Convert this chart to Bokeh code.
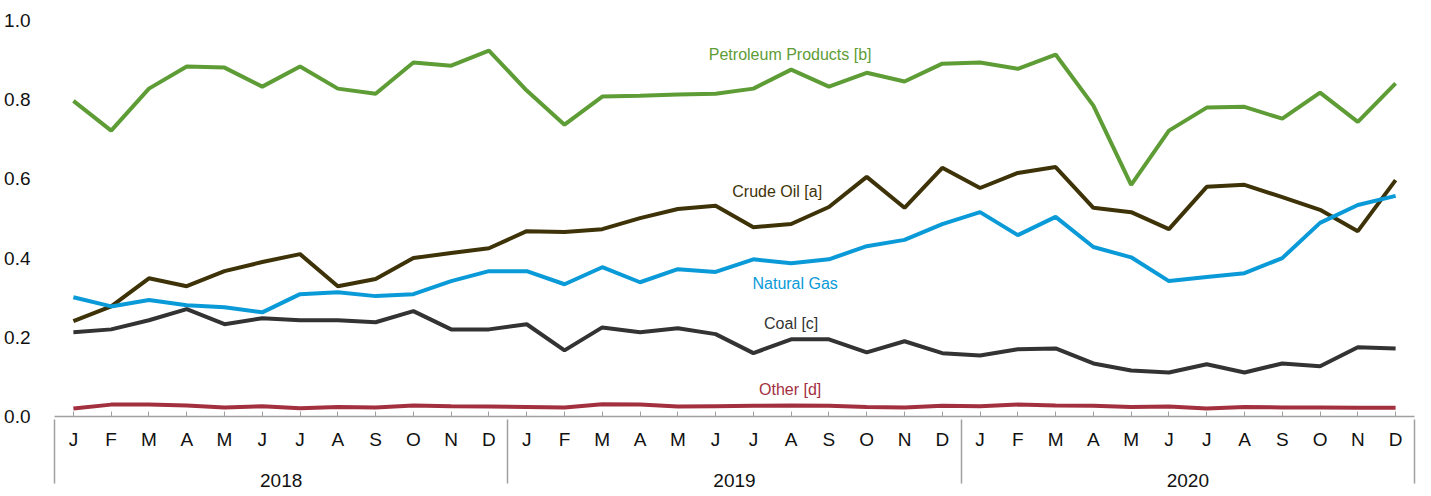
from bokeh.plotting import figure
from bokeh.models import FactorRange, FixedTicker, NumeralTickFormatter, CustomJSTickFormatter
from bokeh.embed import file_html
from bokeh.resources import INLINE
from bokeh.core.properties import value

years = ["2018", "2019", "2020"]
months = ["Jan", "Feb", "Mar", "Apr", "May", "Jun", "Jul", "Aug", "Sep", "Oct", "Nov", "Dec"]
month_labels = ["J", "F", "M", "A", "M", "J", "J", "A", "S", "O", "N", "D"]

petroleum = [0.797, 0.722, 0.828, 0.884, 0.881, 0.833, 0.884, 0.828, 0.815, 0.894, 0.886, 0.924,
             0.823, 0.737, 0.808, 0.810, 0.813, 0.815, 0.828, 0.876, 0.833, 0.868, 0.846, 0.891,
             0.894, 0.878, 0.914, 0.785, 0.585, 0.722, 0.780, 0.782, 0.752, 0.818, 0.744, 0.841]
crude = [0.241, 0.278, 0.349, 0.329, 0.367, 0.390, 0.410, 0.329, 0.347, 0.400, 0.413, 0.425,
         0.468, 0.466, 0.473, 0.501, 0.524, 0.532, 0.478, 0.486, 0.529, 0.605, 0.527, 0.628,
         0.577, 0.615, 0.630, 0.527, 0.516, 0.473, 0.580, 0.585, 0.554, 0.522, 0.468, 0.597]
natural_gas = [0.301, 0.278, 0.294, 0.281, 0.276, 0.263, 0.309, 0.314, 0.304, 0.309, 0.342, 0.367,
               0.367, 0.334, 0.377, 0.339, 0.372, 0.365, 0.397, 0.387, 0.397, 0.430, 0.446, 0.486,
               0.516, 0.458, 0.504, 0.428, 0.402, 0.342, 0.352, 0.362, 0.400, 0.489, 0.534, 0.557]
coal = [0.213, 0.220, 0.243, 0.271, 0.233, 0.248, 0.243, 0.243, 0.238, 0.266, 0.220, 0.220,
        0.233, 0.167, 0.225, 0.213, 0.223, 0.208, 0.160, 0.195, 0.195, 0.162, 0.190, 0.160,
        0.154, 0.170, 0.172, 0.134, 0.116, 0.111, 0.132, 0.111, 0.134, 0.127, 0.175, 0.172]
other = [0.020, 0.030, 0.030, 0.028, 0.023, 0.026, 0.021, 0.024, 0.023, 0.028, 0.026, 0.025,
         0.024, 0.023, 0.031, 0.030, 0.025, 0.026, 0.027, 0.028, 0.027, 0.024, 0.023, 0.027,
         0.026, 0.030, 0.028, 0.027, 0.024, 0.025, 0.020, 0.024, 0.023, 0.023, 0.022, 0.022]

series_names = ["Petroleum Products [b]", "Crude Oil [a]", "Natural Gas", "Coal [c]", "Other [d]"]
series_colors = ["#5e9c36", "#3e3308", "#0a9ad8", "#333333", "#a3303f"]
y_ticks = [0.0, 0.2, 0.4, 0.6, 0.8, 1.0]

factors = [(y, m) for y in years for m in months]
# one hidden padding factor on each side, so that the axis draws group separators
# at both outer edges of the plotting area as well as between the years
range_factors = [(" ", " ")] + factors + [("  ", " ")]

p = figure(x_range=FactorRange(*range_factors, group_padding=0, factor_padding=0,
                               range_padding=-0.9999, range_padding_units="absolute"),
           y_range=(0, 1.0), frame_width=1360, frame_height=396,
           min_border_left=54, min_border_top=20, min_border_right=8, min_border_bottom=78,
           output_backend="svg", toolbar_location=None)
p.outline_line_color = None
p.grid.visible = False

for vals, col in zip([petroleum, crude, natural_gas, coal, other], series_colors):
    p.line(x=factors, y=vals, line_color=col, line_width=4)

label_pos = [(("2019", "Aug"), 0.914, -1), (("2019", "Aug"), 0.567, -14), (("2019", "Aug"), 0.337, 4),
             (("2019", "Aug"), 0.235, 0), (("2019", "Aug"), 0.068, -1)]
for name, col, (xf, yv, xo) in zip(series_names, series_colors, label_pos):
    p.text(x=[xf], y=[yv], text=[name], text_color=col, text_align="center", text_baseline="middle",
           text_font=value("Liberation Sans"), text_font_size="16px", x_offset=xo)

ya = p.yaxis[0]
ya.ticker = FixedTicker(ticks=y_ticks)
ya.formatter = NumeralTickFormatter(format="0.0")
ya.axis_line_color = None
ya.major_tick_line_color = None
ya.minor_tick_line_color = None
ya.major_label_standoff = 18
ya.major_label_text_font = "Liberation Sans"
ya.major_label_text_font_size = "19px"
ya.major_label_text_color = "#111111"

xa = p.xaxis[0]
xa.axis_line_color = "#a0a0a0"
xa.axis_line_width = 1.5
xa.major_tick_line_color = "#a0a0a0"
xa.major_tick_in = 5
xa.major_tick_out = 0
xa.formatter = CustomJSTickFormatter(args=dict(names=months, short=month_labels), code="""
    const s = String(tick);
    const parts = s.split(",");
    const last = parts[parts.length - 1];
    const i = names.indexOf(last);
    if (i >= 0) return short[i] + "\\n ";
    if (/^\\d{4}$/.test(last)) return last;
    return "";
""")
xa.major_label_text_font = "Liberation Sans"
xa.major_label_text_font_size = "19px"
xa.major_label_text_color = "#111111"
xa.major_label_text_line_height = 0.45
xa.major_label_standoff = 12
xa.group_text_font = "Liberation Sans"
xa.group_text_font_size = "19px"
xa.group_text_font_style = "normal"
xa.group_text_color = "#111111"
xa.separator_line_color = "#a0a0a0"
xa.separator_line_width = 1.5

open("out.html", "w").write(file_html(p, INLINE))
